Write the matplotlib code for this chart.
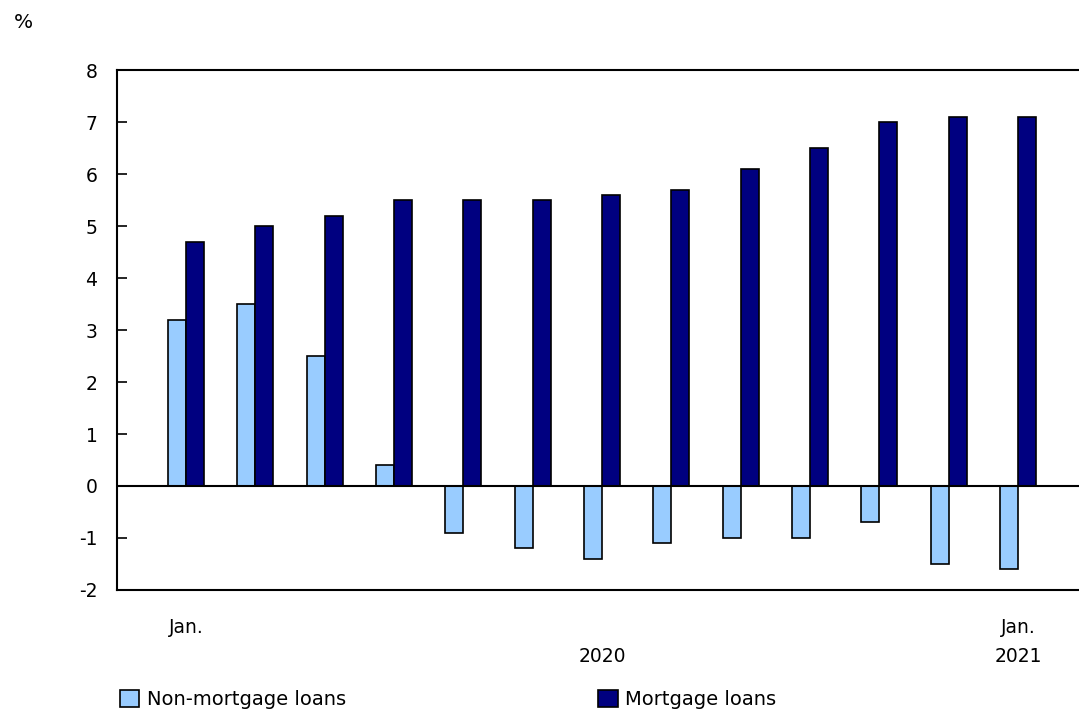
import numpy as np
import matplotlib.pyplot as plt
from matplotlib.patches import Patch

# Datos: tasa de variación anual, enero 2020 a enero 2021
meses = ['Jan.', 'Feb.', 'Mar.', 'Apr.', 'May', 'Jun.', 'Jul.',
         'Aug.', 'Sep.', 'Oct.', 'Nov.', 'Dec.', 'Jan.']
no_hipotecarios = [3.2, 3.5, 2.5, 0.4, -0.9, -1.2, -1.4, -1.1, -1.0, -1.0, -0.7, -1.5, -1.6]
hipotecarios = [4.7, 5.0, 5.2, 5.5, 5.5, 5.5, 5.6, 5.7, 6.1, 6.5, 7.0, 7.1, 7.1]

color_claro = '#99ccff'
color_oscuro = '#000080'

plt.rcParams['font.family'] = ['DejaVu Sans']
plt.rcParams['font.size'] = 13.5

fig = plt.figure(figsize=(10.79, 7.11), dpi=100)
ax = fig.add_axes([0.1084, 0.1702, 0.8916, 0.7313])

x = np.arange(len(meses))
w = 0.26
ax.bar(x - w/2, no_hipotecarios, w, color=color_claro, edgecolor='black', linewidth=1.2)
ax.bar(x + w/2, hipotecarios, w, color=color_oscuro, edgecolor='black', linewidth=1.2)

ax.axhline(0, color='black', linewidth=1.5)

ax.set_xlim(-0.995, 12.88)
ax.set_ylim(-2, 8)
ax.set_yticks(range(-2, 9))
ax.set_yticklabels([str(v) for v in range(-2, 9)])
ax.tick_params(axis='y', direction='in', length=7, width=1.2, pad=14)

ax.set_xticks([0, 6, 12])
ax.set_xticklabels(['Jan.', '\n2020', 'Jan.\n2021'], linespacing=1.7)
ax.tick_params(axis='x', length=0, pad=20)

for lado in ['left', 'top', 'bottom']:
    ax.spines[lado].set_linewidth(1.5)
ax.spines['right'].set_visible(False)

fig.text(0.013, 0.968, '%', ha='left', va='center', fontsize=14.5)

handles = [Patch(facecolor=color_claro, edgecolor='black', linewidth=1.2, label='Non-mortgage loans'),
           Patch(facecolor=color_oscuro, edgecolor='black', linewidth=1.2, label='Mortgage loans')]
fig.legend(handles=handles, loc='lower left', bbox_to_anchor=(0.095, -0.022), ncol=2,
           frameon=False, fontsize=14, handlelength=1.0, handleheight=1.0, handletextpad=0.4,
           columnspacing=12.95)

fig.savefig('out.png', dpi=100)
